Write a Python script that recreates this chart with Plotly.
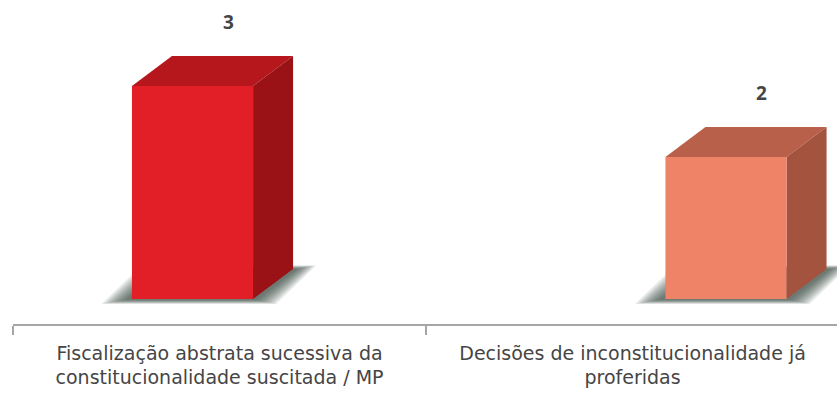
import plotly.graph_objects as go

# --- data -------------------------------------------------------------
categories = [
    "Fiscalização abstrata sucessiva da constitucionalidade suscitada / MP",
    "Decisões de inconstitucionalidade já proferidas",
]
tick_labels = [
    "Fiscalização abstrata sucessiva da<br>constitucionalidade suscitada / MP",
    "Decisões de inconstitucionalidade já<br>proferidas",
]
values = [3, 2]

# --- styling ----------------------------------------------------------
front_colors = ["#E21F26", "#EF8367"]
top_colors = ["#B5171C", "#B9604A"]
side_colors = ["#9A1216", "#A4533F"]
shadow_color = "rgba(50,60,52,{a})"
text_color = "#454545"
font_family = "DejaVu Sans"

BAR_W = 0.227     # front face width (bar axis units)
DEPTH_X = 0.075   # oblique depth, horizontal part (bar axis units)
DEPTH_Y = 0.423   # oblique depth, vertical part (value units)

fig = go.Figure()


def poly(xs, ys, color, name):
    fig.add_trace(go.Scatter(
        x=xs + [xs[0]], y=ys + [ys[0]], mode="lines", fill="toself",
        fillcolor=color, line=dict(width=0, color=color),
        hoverinfo="skip", showlegend=False, name=name, xaxis="x2", yaxis="y",
    ))


positions = list(range(len(values)))

# category axis carrier (keeps the labelled axis attached to the plot)
fig.add_trace(go.Scatter(
    x=positions, y=[0] * len(positions), mode="markers",
    marker=dict(opacity=0), hoverinfo="skip", showlegend=False,
    xaxis="x", yaxis="y",
))

# soft floor shadows under each column
n_layers = 10
for p in positions:
    l, r = p - BAR_W / 2, p + BAR_W / 2
    for k in range(n_layers):
        t = 1 - k / (n_layers - 1)          # 1 = outermost, 0 = innermost
        sl, sr = 0.012 + 0.045 * t, 0.008 + 0.035 * t
        sf, sb = 0.01 + 0.06 * t, 0.05 * t
        poly([l - sl, r + sr, r + DEPTH_X + sr, l + DEPTH_X - sl],
             [-sf, -sf, DEPTH_Y + sb, DEPTH_Y + sb],
             shadow_color.format(a=0.11), "shadow")

# 3D columns: top, side and front faces
for p, v, fc, tc, sc in zip(positions, values, front_colors, top_colors, side_colors):
    l, r = p - BAR_W / 2, p + BAR_W / 2
    poly([l, r, r + DEPTH_X, l + DEPTH_X], [v, v, v + DEPTH_Y, v + DEPTH_Y], tc, "top")
    poly([r, r + DEPTH_X, r + DEPTH_X, r], [0, DEPTH_Y, v + DEPTH_Y, v], sc, "side")
    poly([l, r, r, l], [0, 0, v, v], fc, "front")
    fig.add_annotation(
        x=p + DEPTH_X * 0.9, y=v + DEPTH_Y, xref="x2", yref="y",
        text=f"<b>{v}</b>", showarrow=False, yshift=34,
        font=dict(family="Open Sans", size=19, color=text_color),
    )

fig.update_layout(
    width=837, height=394,
    margin=dict(l=13, r=0, t=0, b=70),
    paper_bgcolor="white", plot_bgcolor="white",
    xaxis=dict(
        range=[-0.5, 1.495], fixedrange=True,
        tickmode="array", tickvals=[0, 1], ticktext=tick_labels,
        ticks="", showgrid=False, zeroline=False, ticklabelstandoff=11,
        showline=True, linecolor="#A6A6A6", linewidth=1.5,
        tickfont=dict(family=font_family, size=19, color=text_color),
        minor=dict(tickmode="array", tickvals=[-0.5, 0.5, 1.5],
                   ticks="outside", ticklen=9, tickwidth=1.5,
                   tickcolor="#A6A6A6", showgrid=False),
    ),
    xaxis2=dict(overlaying="x", anchor="y", range=[-0.3365, 1.2081],
                visible=False, fixedrange=True),
    yaxis=dict(range=[-0.352, 4.211], visible=False, fixedrange=True),
)

fig.write_html("out.html")
